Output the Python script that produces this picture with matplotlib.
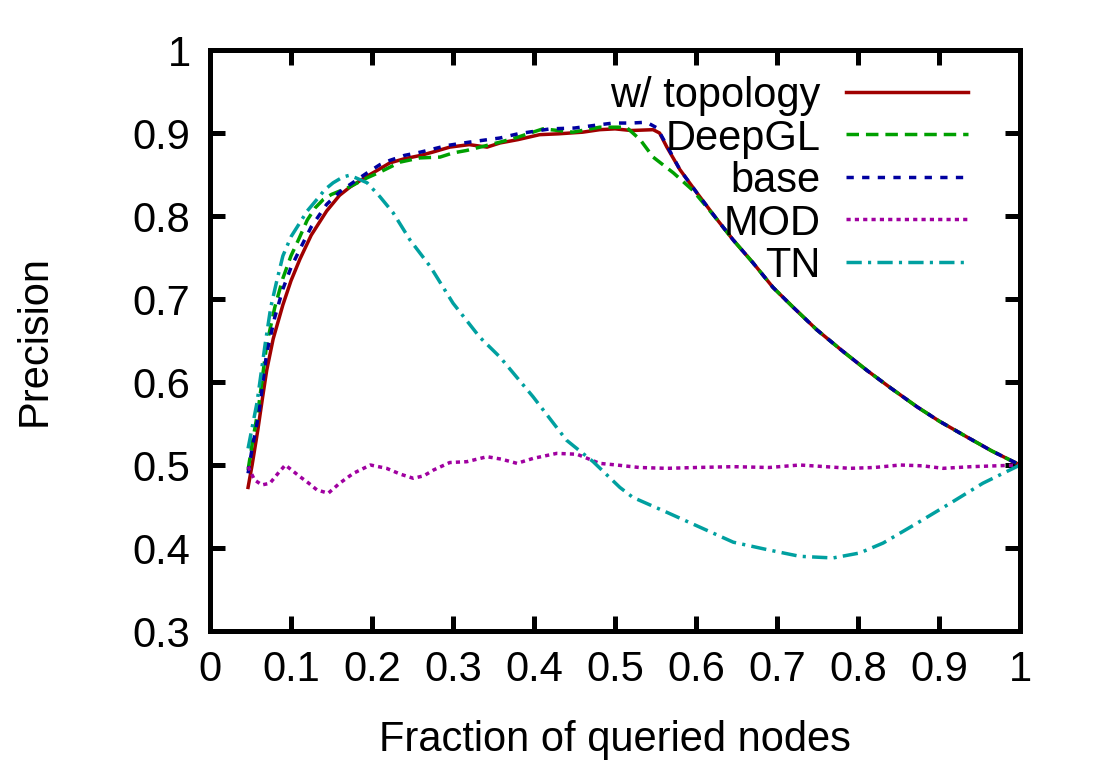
import numpy as np
import matplotlib
matplotlib.use("Agg")
import matplotlib.pyplot as plt

plt.rcParams['font.family'] = ['Liberation Sans', 'DejaVu Sans']

# -----------------------------
# Data
# -----------------------------
topo_x = [0.047, 0.052, 0.059, 0.065, 0.070, 0.078, 0.090, 0.100, 0.111, 0.125,
          0.144, 0.160, 0.173, 0.194, 0.210, 0.222, 0.240, 0.260, 0.275, 0.296,
          0.320, 0.342, 0.358, 0.380, 0.407, 0.430, 0.460, 0.481, 0.500, 0.520,
          0.547, 0.555, 0.564, 0.580, 0.601, 0.625, 0.646, 0.670, 0.695, 0.720,
          0.749, 0.780, 0.811, 0.840, 0.873, 0.900, 0.934, 0.965, 1.000]
topo_y = [0.473, 0.500, 0.542, 0.582, 0.614, 0.652, 0.693, 0.722, 0.748, 0.777,
          0.806, 0.825, 0.835, 0.848, 0.857, 0.864, 0.869, 0.873, 0.877, 0.883,
          0.886, 0.883, 0.888, 0.892, 0.898, 0.899, 0.901, 0.904, 0.905, 0.903,
          0.904, 0.900, 0.883, 0.856, 0.828, 0.797, 0.771, 0.744, 0.714, 0.690,
          0.663, 0.638, 0.614, 0.593, 0.570, 0.553, 0.534, 0.517, 0.500]

deepgl_x = [0.047, 0.052, 0.060, 0.070, 0.080, 0.090, 0.100, 0.110, 0.120, 0.130,
            0.140, 0.150, 0.160, 0.170, 0.180, 0.194, 0.210, 0.235, 0.259, 0.284,
            0.300, 0.317, 0.358, 0.380, 0.411, 0.430, 0.448, 0.481, 0.514, 0.531,
            0.547, 0.572, 0.596, 0.625, 0.646, 0.670, 0.695, 0.720, 0.749, 0.780,
            0.811, 0.840, 0.873, 0.900, 0.934, 0.965, 1.000]
deepgl_y = [0.494, 0.525, 0.570, 0.645, 0.690, 0.725, 0.752, 0.773, 0.795, 0.810,
            0.820, 0.826, 0.830, 0.834, 0.839, 0.846, 0.853, 0.865, 0.870, 0.871,
            0.876, 0.879, 0.889, 0.895, 0.905, 0.903, 0.901, 0.907, 0.907, 0.892,
            0.871, 0.852, 0.831, 0.797, 0.771, 0.744, 0.714, 0.690, 0.663, 0.638,
            0.614, 0.593, 0.570, 0.553, 0.534, 0.517, 0.500]

base_x = [0.047, 0.052, 0.060, 0.070, 0.080, 0.090, 0.100, 0.111, 0.125, 0.144,
          0.160, 0.173, 0.185, 0.194, 0.210, 0.222, 0.240, 0.260, 0.293, 0.320,
          0.358, 0.380, 0.420, 0.450, 0.481, 0.498, 0.520, 0.539, 0.552, 0.564,
          0.580, 0.601, 0.625, 0.646, 0.670, 0.695, 0.720, 0.749, 0.780, 0.811,
          0.840, 0.873, 0.900, 0.934, 0.965, 1.000]
base_y = [0.490, 0.520, 0.560, 0.635, 0.678, 0.712, 0.738, 0.760, 0.787, 0.814,
          0.829, 0.838, 0.846, 0.852, 0.862, 0.867, 0.873, 0.877, 0.885, 0.889,
          0.894, 0.899, 0.905, 0.906, 0.910, 0.912, 0.912, 0.913, 0.906, 0.885,
          0.856, 0.828, 0.797, 0.771, 0.744, 0.714, 0.690, 0.663, 0.638, 0.614,
          0.593, 0.570, 0.553, 0.534, 0.517, 0.500]

mod_x = [0.047, 0.055, 0.064, 0.074, 0.084, 0.093, 0.102, 0.111, 0.122, 0.132,
         0.146, 0.160, 0.177, 0.198, 0.218, 0.235, 0.251, 0.264, 0.276, 0.296,
         0.317, 0.342, 0.360, 0.379, 0.399, 0.428, 0.453, 0.481, 0.502, 0.530,
         0.564, 0.600, 0.646, 0.690, 0.728, 0.760, 0.790, 0.820, 0.852, 0.880,
         0.905, 0.940, 0.970, 1.000]
mod_y = [0.498, 0.482, 0.476, 0.478, 0.490, 0.500, 0.493, 0.486, 0.478, 0.470,
         0.466, 0.478, 0.490, 0.500, 0.496, 0.489, 0.484, 0.487, 0.494, 0.503,
         0.504, 0.510, 0.507, 0.502, 0.508, 0.514, 0.513, 0.502, 0.500, 0.497,
         0.496, 0.497, 0.498, 0.497, 0.500, 0.498, 0.496, 0.497, 0.500, 0.499,
         0.496, 0.498, 0.499, 0.500]

tn_x = [0.047, 0.053, 0.058, 0.063, 0.068, 0.075, 0.082, 0.090, 0.100, 0.111,
        0.120, 0.132, 0.142, 0.152, 0.164, 0.172, 0.180, 0.194, 0.210, 0.226,
        0.247, 0.272, 0.300, 0.333, 0.358, 0.399, 0.440, 0.473, 0.506, 0.522,
        0.564, 0.605, 0.646, 0.688, 0.728, 0.769, 0.802, 0.831, 0.873, 0.914,
        0.954, 1.000]
tn_y = [0.520, 0.550, 0.575, 0.610, 0.645, 0.690, 0.720, 0.752, 0.775, 0.792,
        0.806, 0.820, 0.832, 0.840, 0.847, 0.849, 0.846, 0.840, 0.823, 0.804,
        0.771, 0.739, 0.695, 0.654, 0.630, 0.582, 0.530, 0.504, 0.473, 0.461,
        0.443, 0.425, 0.407, 0.398, 0.390, 0.388, 0.394, 0.406, 0.430, 0.454,
        0.478, 0.500]

labels = ["w/ topology", "DeepGL", "base", "MOD", "TN"]
colors = ["#a00000", "#00a000", "#0000a0", "#a000a0", "#00a0a0"]
dashes = [None, (3.6, 2.0), (2.1, 2.4), (1.2, 1.2), (4.4, 1.8, 0.9, 1.8)]

xticks = [0, 0.1, 0.2, 0.3, 0.4, 0.5, 0.6, 0.7, 0.8, 0.9, 1]
xtick_labels = ["0", "0.1", "0.2", "0.3", "0.4", "0.5", "0.6", "0.7", "0.8", "0.9", "1"]
yticks = [0.3, 0.4, 0.5, 0.6, 0.7, 0.8, 0.9, 1]
ytick_labels = ["0.3", "0.4", "0.5", "0.6", "0.7", "0.8", "0.9", "1"]

series = [(topo_x, topo_y), (deepgl_x, deepgl_y), (base_x, base_y),
          (mod_x, mod_y), (tn_x, tn_y)]

# -----------------------------
# Figure
# -----------------------------
fig = plt.figure(figsize=(10.96, 7.67), dpi=100)
ax = fig.add_axes([0.1916, 0.1773, 0.7391, 0.7575])

lw = 2.5
for (sx, sy), lab, col, dsh in zip(series, labels, colors, dashes):
    line, = ax.plot(sx, sy, color=col, linewidth=lw, label=lab)
    if dsh is not None:
        line.set_dashes(dsh)

ax.set_xlim(0, 1)
ax.set_ylim(0.3, 1)

ax.set_xticks(xticks)
ax.set_xticklabels(xtick_labels)
ax.set_yticks(yticks)
ax.set_yticklabels(ytick_labels)

ax.tick_params(direction="in", length=10.8, width=3.6, labelsize=30,
               top=True, right=True, pad=14)
for sp in ax.spines.values():
    sp.set_linewidth(3.6)

ax.set_xlabel("Fraction of queried nodes", fontsize=30, labelpad=21)
ax.set_ylabel("Precision", fontsize=30, labelpad=56)

# -----------------------------
# Legend (gnuplot style: right-aligned text, sample after it)
# -----------------------------
row_top = 0.928
row_step = 0.0732
for i, (lab, col, dsh) in enumerate(zip(labels, colors, dashes)):
    yy = row_top - i * row_step
    ax.text(0.754, yy, lab, transform=ax.transAxes, ha="right",
            va="center_baseline", fontsize=30)
    sample, = ax.plot([0.785, 0.936], [yy, yy], transform=ax.transAxes,
                      color=col, linewidth=lw)
    if dsh is not None:
        sample.set_dashes(dsh)

fig.savefig("out.png", dpi=100)
plt.close(fig)
